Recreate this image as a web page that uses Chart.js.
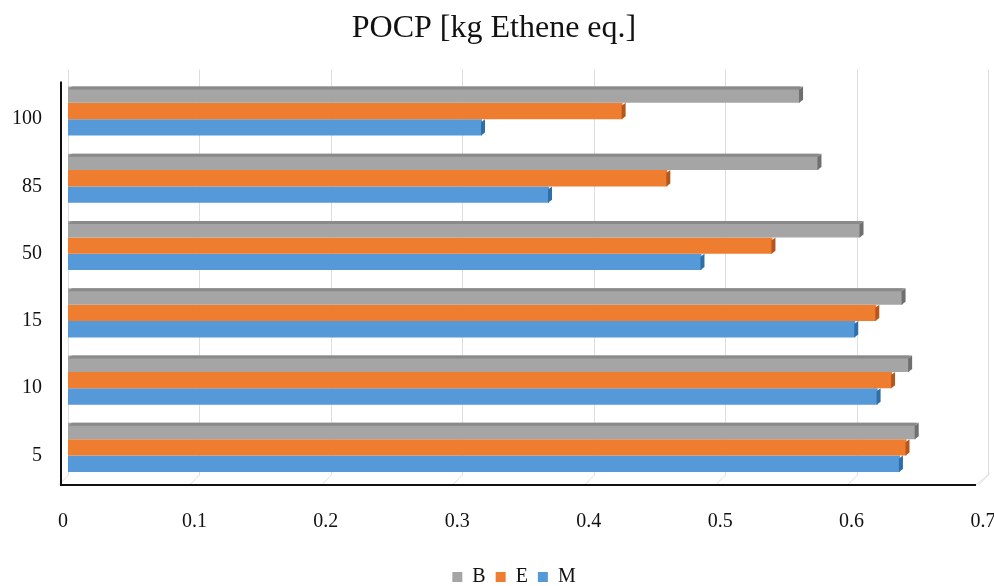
<!DOCTYPE html>
<html lang="en">
<head>
  <meta charset="UTF-8">
  <title>POCP</title>
  <script src="https://cdn.jsdelivr.net/npm/chart.js"></script>
  <style>
    html, body { margin: 0; padding: 0; background: #fff; }
    #wrap { width: 994px; height: 586px; }
  </style>
</head>
<body>
<div id="wrap"><canvas id="chart" width="994" height="586"></canvas></div>

<script>
  // share of substitution (category axis, top to bottom)
  const categories = ['100', '85', '50', '15', '10', '5'];

  // POCP results per fuel blend
  const seriesB = [0.557, 0.571, 0.603, 0.635, 0.640, 0.645];
  const seriesE = [0.422, 0.456, 0.536, 0.615, 0.627, 0.638];
  const seriesM = [0.315, 0.366, 0.482, 0.599, 0.616, 0.633];

  const xTicks = [0, 0.1, 0.2, 0.3, 0.4, 0.5, 0.6, 0.7];

  const serif = "'Liberation Serif', 'Times New Roman', serif";

  // back-wall gridlines that bend onto the floor
  const walls = {
    id: 'walls',
    beforeDatasetsDraw(chart) {
      const { ctx, chartArea: a, scales } = chart;
      ctx.save();
      ctx.strokeStyle = '#dedede';
      ctx.lineWidth = 1;
      xTicks.forEach(v => {
        const x = Math.round(scales.x.getPixelForValue(v)) + 0.5;
        ctx.beginPath();
        ctx.moveTo(x, a.top - 8);
        ctx.lineTo(x, a.bottom - 6);
        ctx.lineTo(x - 10, a.bottom + 4);
        ctx.stroke();
      });
      ctx.restore();
    },
    afterDraw(chart) {
      // black left axis and front floor edge
      const { ctx, chartArea: a } = chart;
      ctx.save();
      ctx.strokeStyle = '#111';
      ctx.lineWidth = 2;
      ctx.beginPath();
      ctx.moveTo(a.left - 7, a.top + 4);
      ctx.lineTo(a.left - 7, a.bottom + 4);
      ctx.lineTo(a.right - 12, a.bottom + 4);
      ctx.stroke();
      ctx.strokeStyle = '#e0e0e0';
      ctx.lineWidth = 1;
      ctx.beginPath();
      ctx.moveTo(a.right - 12, a.bottom + 4);
      ctx.lineTo(a.right + 2, a.bottom - 8);
      ctx.stroke();
      ctx.restore();
    },
    afterLayout(chart) {
      chart.legend.left += 20;
      chart.legend.right += 20;
    }
  };

  // fake 3D: darker end cap on each bar and a top strip on the upper bar
  const bevel = {
    id: 'bevel',
    afterDatasetsDraw(chart) {
      const ctx = chart.ctx;
      const shades = ['#6f6f6f', '#b5561a', '#2f6fa8'];
      chart.data.datasets.forEach((ds, di) => {
        const meta = chart.getDatasetMeta(di);
        meta.data.forEach(bar => {
          const top = bar.y - bar.height / 2;
          const bottom = bar.y + bar.height / 2;
          ctx.save();
          ctx.fillStyle = shades[di];
          ctx.beginPath();
          ctx.moveTo(bar.x - 1, top + 3);
          ctx.lineTo(bar.x + 3, top);
          ctx.lineTo(bar.x + 3, bottom - 3);
          ctx.lineTo(bar.x - 1, bottom);
          ctx.closePath();
          ctx.fill();
          if (di === 0) {
            ctx.fillStyle = '#8a8a8a';
            ctx.beginPath();
            ctx.moveTo(bar.base, top + 3);
            ctx.lineTo(bar.base + 4, top);
            ctx.lineTo(bar.x + 3, top);
            ctx.lineTo(bar.x - 1, top + 3);
            ctx.closePath();
            ctx.fill();
          }
          ctx.restore();
        });
      });
    }
  };

  new Chart(document.getElementById('chart'), {
    type: 'bar',
    data: {
      labels: categories,
      datasets: [
        { label: 'B', data: seriesB, backgroundColor: '#a5a5a5' },
        { label: 'E', data: seriesE, backgroundColor: '#ef7d2f' },
        { label: 'M', data: seriesM, backgroundColor: '#5599d8' }
      ]
    },
    options: {
      indexAxis: 'y',
      responsive: false,
      animation: false,
      categoryPercentage: 0.73,
      barPercentage: 1.0,
      layout: { padding: { top: 0, right: 6, bottom: -11, left: 0 } },
      plugins: {
        title: {
          display: true,
          text: 'POCP [kg Ethene eq.]',
          color: '#111',
          font: { family: serif, size: 32, weight: 'normal' },
          padding: { top: 9, bottom: 30 }
        },
        legend: {
          position: 'bottom',
          labels: {
            color: '#111',
            font: { family: serif, size: 20 },
            boxWidth: 10,
            boxHeight: 10,
            padding: 10
          }
        },
        tooltip: { enabled: false }
      },
      scales: {
        x: {
          min: 0,
          max: 0.7,
          afterBuildTicks: s => { s.ticks = xTicks.map(v => ({ value: v })); },
          afterFit: s => { s.height = 76; s.paddingLeft = 0; s.paddingRight = 0; },
          grid: { display: false, drawTicks: false },
          border: { display: false },
          ticks: {
            color: '#111',
            padding: 29,
            labelOffset: -5,
            font: { family: serif, size: 20 },
            callback: v => String(+v.toFixed(1))
          }
        },
        y: {
          afterFit: s => { s.width = 68; },
          grid: { display: false, drawTicks: false },
          border: { display: false },
          ticks: {
            color: '#111',
            padding: 26,
            labelOffset: 8,
            font: { family: serif, size: 20 }
          }
        }
      }
    },
    plugins: [walls, bevel]
  });
</script>
</body>
</html>
